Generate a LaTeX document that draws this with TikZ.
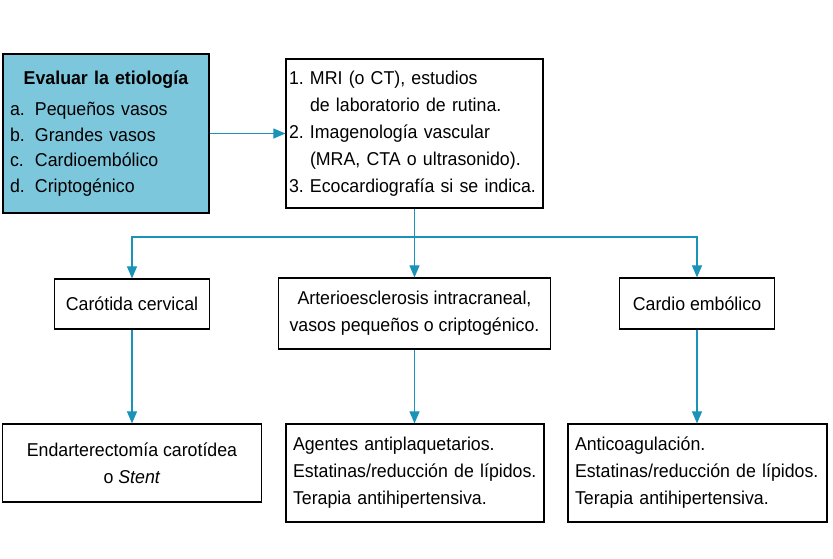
\documentclass[tikz,border=0pt]{standalone}
\usepackage{fontspec}
\setmainfont{Liberation Sans}[FakeStretch=0.955]
\usetikzlibrary{arrows.meta}

\definecolor{azulcaja}{HTML}{7DC7DD}
\definecolor{azulflecha}{HTML}{1A93B8}

\newcommand{\elem}[2]{\makebox[#1][l]{#2}}

\begin{document}
\begin{tikzpicture}[x=1pt,y=-1pt,
    caja/.style={draw=black,line width=1.2pt,inner xsep=7pt,inner ysep=0pt,
      font=\fontsize{18.6}{27}\selectfont},
    linea/.style={draw=azulflecha,line width=1.1pt},
    flecha/.style={linea,-{Triangle[length=12pt,width=10pt]}}]
      \useasboundingbox (0,0) rectangle (833,558);

      % fila superior
      \node[caja,fill=azulcaja,text width=192pt,minimum height=159pt,align=left,
        font=\fontsize{18.6}{25.5}\selectfont] (etiologia) at (106,133.5)
        {{\centering\textbf{Evaluar la etiología}\par}\vspace{6pt}
         \elem{25pt}{a.}Pequeños vasos\\
         \elem{25pt}{b.}Grandes vasos\\
         \elem{25pt}{c.}Cardioembólico\\
         \elem{25pt}{d.}Criptogénico};
      \node[caja,inner xsep=3pt,text width=251pt,minimum height=149pt,align=left] (estudios) at (414.5,133.5)
        {\elem{21pt}{1.}MRI (o CT), estudios\\
         \elem{21pt}{}de laboratorio de rutina.\\
         \elem{21pt}{2.}Imagenología vascular\\
         \elem{21pt}{}(MRA, CTA o ultrasonido).\\
         \elem{21pt}{3.}Ecocardiografía si se indica.};

      % fila del medio
      \node[caja,minimum width=155pt,minimum height=50pt] (carotida) at (132,304) {Carótida cervical};
      \node[caja,minimum width=272pt,minimum height=71pt,align=center] (intracraneal) at (414.5,313.5)
        {Arterioesclerosis intracraneal,\\vasos pequeños o criptogénico.};
      \node[caja,minimum width=155pt,minimum height=51pt] (cardio) at (697,303.5) {Cardio embólico};

      % fila inferior
      \node[caja,minimum width=259pt,minimum height=78pt,align=center] (endarterectomia) at (132,463)
        {Endarterectomía carotídea\\o \textit{Stent}};
      \node[caja,text width=244pt,minimum height=98pt,align=left] (antiplaquetarios) at (415,473)
        {Agentes antiplaquetarios.\\
         Estatinas/reducción de lípidos.\\
         Terapia antihipertensiva.};
      \node[caja,text width=245pt,minimum height=98pt,align=left] (anticoagulacion) at (697.5,473)
        {Anticoagulación.\\
         Estatinas/reducción de lípidos.\\
         Terapia antihipertensiva.};

      % conectores
      \coordinate (cruce) at (414.5,237);
      \draw[flecha] (etiologia) -- (estudios);
      \draw[linea] (estudios) -- (cruce);
      \draw[flecha] (cruce) -| (carotida);
      \draw[flecha] (cruce) -- (intracraneal);
      \draw[flecha] (cruce) -| (cardio);
      \draw[flecha] (carotida) -- (endarterectomia);
      \draw[flecha] (intracraneal) -- (intracraneal |- antiplaquetarios.north);
      \draw[flecha] (cardio) -- (cardio |- anticoagulacion.north);
    \end{tikzpicture}
\end{document}
